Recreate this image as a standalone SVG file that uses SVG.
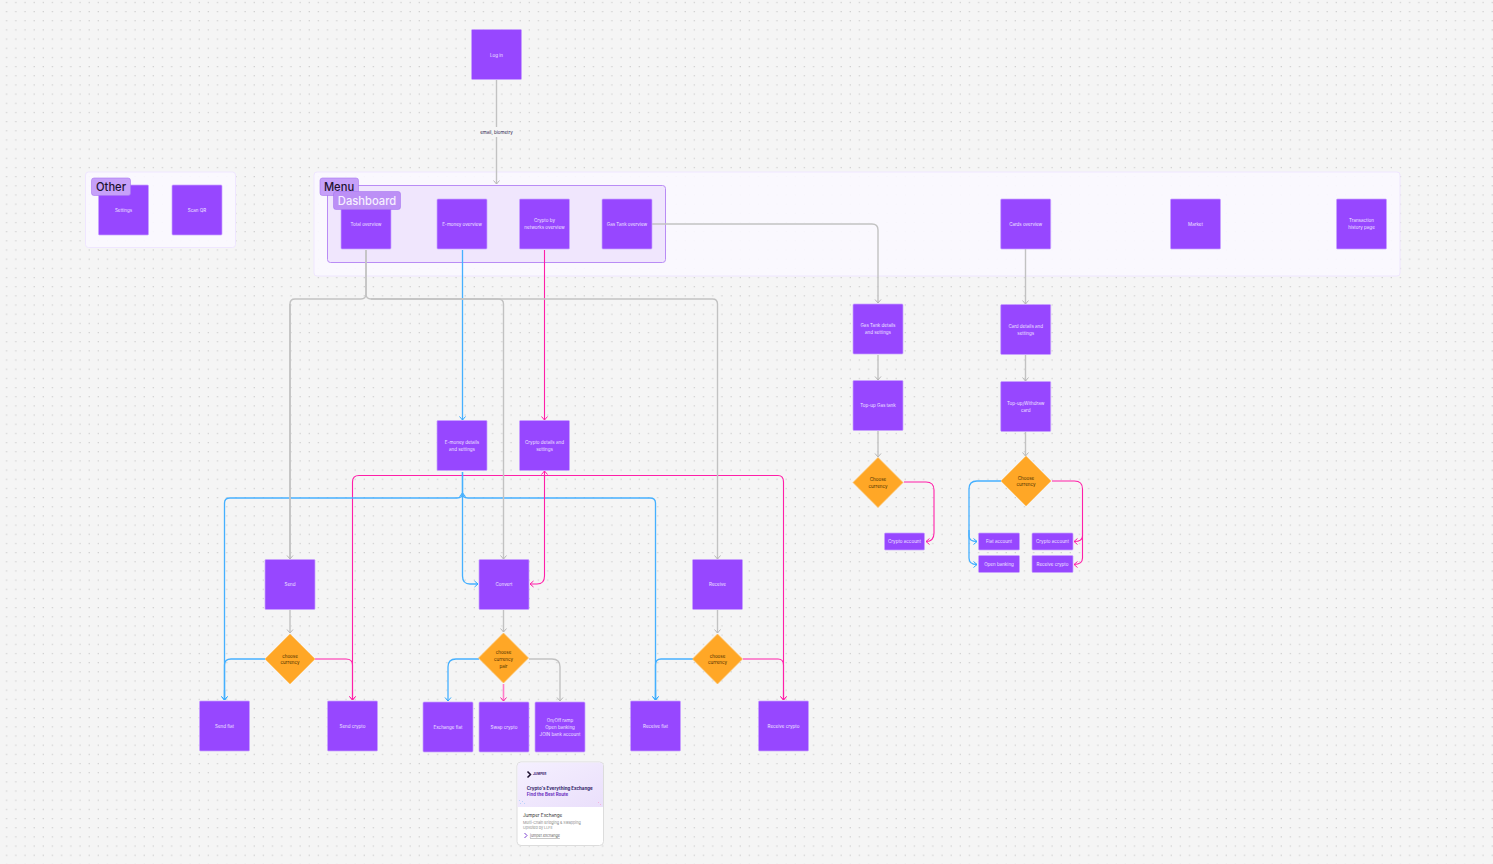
<svg xmlns="http://www.w3.org/2000/svg" width="1493" height="864" viewBox="0 0 1493 864">
<style>
text{font-family:Inter,"Liberation Sans",sans-serif;text-anchor:middle}
.n rect{fill:#9747ff;stroke:#c9a4ff;stroke-width:.7}
.n text{fill:#efe5ff;font-size:4.5px}
.d polygon{fill:#ffa726;stroke:#ffc266;stroke-width:.7}
.d text{fill:#4a2e00;font-size:4.5px}
.c path{fill:none;stroke-width:1.4;marker-end:url(#ag);stroke:#c2c2c2}
.c path.b{stroke:#45b0ff;stroke-width:1.3;marker-end:url(#ab)}
.c path.m{stroke:#ff1fa8;stroke-width:1.1;marker-end:url(#am)}
.c path.s{stroke:#ff7cc8;stroke-width:1.6}
.c path.x{marker-end:none}
.t{font-size:11.2px;font-weight:500}
.l text{text-anchor:start}
</style>
<defs>
<pattern id="dots" width="9.17" height="9.17" patternUnits="userSpaceOnUse"><rect x="6.1" y="1.9" width="1.1" height="1.1" fill="#c4c4c4"/></pattern>
<marker id="ag" markerWidth="8" markerHeight="8" refX="6" refY="4" orient="auto" markerUnits="userSpaceOnUse"><path d="M2.500 1L6 4L2.500 7" fill="none" stroke="#b8b8b8"/></marker>
<marker id="ab" markerWidth="8" markerHeight="8" refX="6" refY="4" orient="auto" markerUnits="userSpaceOnUse"><path d="M2.500 1L6 4L2.500 7" fill="none" stroke="#2fa8ff"/></marker>
<marker id="am" markerWidth="8" markerHeight="8" refX="6" refY="4" orient="auto" markerUnits="userSpaceOnUse"><path d="M2.500 1L6 4L2.500 7" fill="none" stroke="#ff1fa8"/></marker>
<linearGradient id="card" x1="0" y1="0" x2="1" y2="1"><stop offset="0" stop-color="#f5f0ff"/><stop offset="1" stop-color="#eadffb"/></linearGradient>
</defs>
<rect width="1493" height="864" fill="#f5f5f5"/>
<rect width="1493" height="864" fill="url(#dots)"/>

<g id="section-other"><rect x="85.500" y="172" width="150" height="75.500" rx="3" fill="#fbf8ff" fill-opacity=".9" stroke="#efe6ff"/></g>
<g id="section-menu"><rect x="314" y="172" width="1086" height="104" rx="3" fill="#fbf8ff" fill-opacity=".9" stroke="#efe6ff"/></g>
<g id="section-dashboard"><rect x="327.500" y="185.500" width="338" height="77" rx="3" fill="#efe4fd" fill-opacity=".93" stroke="#b98cf5"/></g>

<g class="c" id="connectors">
<path class="b" d="M462.500 250V420"/>
<path class="m" d="M544.500 250V420"/>
<path class="m" d="M904 482H926Q934 482 934 490V533Q934 541.500 926 541.500"/>
<path class="b" d="M1001 481H977Q969 481 969 489V536Q969 541.500 977 541.500"/>
<path class="b" d="M969 530V558Q969 564.500 977 564.500"/>
<path class="m" d="M1052 481H1074.500Q1082.500 481 1082.500 489V536Q1082.500 541.500 1074 541.500"/>
<path class="m" d="M1082.500 530V558Q1082.500 564.500 1074 564.500"/>
<path class="m x" d="M544.500 475.500H359Q352.500 475.500 352.500 482V700"/>
<path class="m" d="M352.500 690V700"/>
<path class="m x" d="M544.500 475.500H778Q783.500 475.500 783.500 482V700"/>
<path class="m" d="M783.500 690V700"/>
<path class="b x" d="M462.500 472V493Q462.500 498 457 498H230Q224.500 498 224.500 503V700"/>
<path class="b" d="M224.500 690V700"/>
<path class="b x" d="M462.500 493Q462.500 498 468 498H650Q655.500 498 655.500 503V700"/>
<path class="b" d="M655.500 690V700"/>
<path class="b" d="M462.500 498V493"/>
<path class="b" d="M462.500 472V576Q462.500 584 470 584H478"/>
<path class="m" d="M544.500 576Q544.500 584 537 584H530"/>
<path class="m x" d="M544.500 476V576"/>
<path class="m" d="M544.500 480V471"/>
<path class="b" d="M265 659H231Q224.500 659 224.500 665V700"/>
<path class="m" d="M315 659H346Q352.500 659 352.500 665V700"/>
<path class="b" d="M479 659H456Q448 659 448 667V701"/>
<path class="m s" d="M503.500 684V701"/>
<path class="b" d="M693 659H661Q655.500 659 655.500 665V700"/>
<path class="m" d="M743 659H778Q783.500 659 783.500 665V700"/>
<path d="M496.500 80V184"/>
<path class="x" d="M366 250V294Q366 299 361 299H295Q290 299 290 304V559"/>
<path d="M290 304V559"/>
<path d="M366 250V294Q366 299 371 299H498Q503.500 299 503.500 304V559"/>
<path d="M371 299H712.500Q717.500 299 717.500 304V559"/>
<path d="M652 224H872Q878 224 878 230V303"/>
<path d="M1025.500 249V304"/>
<path d="M878 355V380"/>
<path d="M1025.500 355V381"/>
<path d="M878 431V457"/>
<path d="M1025.500 432V456"/>
<path d="M290 610V633"/>
<path d="M503.500 610V632"/>
<path d="M717.500 610V633"/>
<path d="M529 659H552Q560 659 560 667V701"/>
</g>
<g id="edge-label"><rect x="478" y="127" width="37" height="10" fill="#f5f5f5"/><text x="496.500" y="134" font-size="4.500" fill="#2a1a4a">email, biometry</text></g>

<g class="n" id="login"><rect x="471.500" y="29.500" width="50" height="50" rx="1"/><text x="496.500" y="56.500">Log in</text></g>
<g class="n" id="settings"><rect x="98.500" y="185" width="50" height="50" rx="1"/><text x="123.500" y="212">Settings</text></g>
<g class="n" id="scanqr"><rect x="172" y="185" width="50" height="50" rx="1"/><text x="197" y="212">Scan QR</text></g>
<g class="n" id="total"><rect x="341" y="199" width="50" height="50" rx="1"/><text x="366" y="225.800">Total overview</text></g>
<g class="n" id="emoney"><rect x="437" y="199" width="50" height="50" rx="1"/><text x="462" y="225.800">E-money overview</text></g>
<g class="n" id="crypto"><rect x="519.500" y="199" width="50" height="50" rx="1"/><text x="544.500" y="222">Crypto by</text><text x="544.500" y="229">networks overview</text></g>
<g class="n" id="gas"><rect x="602" y="199" width="50" height="50" rx="1"/><text x="627" y="225.800">Gas Tank overview</text></g>
<g class="n" id="cards"><rect x="1000.700" y="199" width="50" height="50" rx="1"/><text x="1025.700" y="225.800">Cards overview</text></g>
<g class="n" id="market"><rect x="1170.500" y="199" width="50" height="50" rx="1"/><text x="1195.500" y="225.800">Market</text></g>
<g class="n" id="history"><rect x="1336.500" y="199" width="50" height="50" rx="1"/><text x="1361.500" y="222">Transaction</text><text x="1361.500" y="229">history page</text></g>
<g class="n" id="gasdetails"><rect x="853" y="304" width="50" height="50" rx="1"/><text x="878" y="327.300">Gas Tank details</text><text x="878" y="334">and settings</text></g>
<g class="n" id="carddetails"><rect x="1000.700" y="304.500" width="50" height="50" rx="1"/><text x="1025.700" y="327.800">Card details and</text><text x="1025.700" y="334.800">settings</text></g>
<g class="n" id="topupgas"><rect x="853" y="380.500" width="50" height="50" rx="1"/><text x="878" y="407.300">Top-up Gas tank</text></g>
<g class="n" id="topupcard"><rect x="1000.700" y="381.500" width="50" height="50" rx="1"/><text x="1025.700" y="405">Top-up/Withdraw</text><text x="1025.700" y="412">card</text></g>
<g class="d" id="choosegas"><polygon points="878,457.500 903,482.500 878,507.500 853,482.500"/><text x="878" y="480.500">Choose</text><text x="878" y="487.500">currency</text></g>
<g class="d" id="choosecard"><polygon points="1026,456 1051,481 1026,506 1001,481"/><text x="1026" y="479.500">Choose</text><text x="1026" y="486">currency</text></g>
<g class="n" id="cryptoacc1"><rect x="884.500" y="533" width="40" height="17" rx="1"/><text x="904.500" y="543.300">Crypto account</text></g>
<g class="n" id="fiatacc"><rect x="978.500" y="533" width="41" height="17" rx="1"/><text x="999" y="543.300">Fiat account</text></g>
<g class="n" id="cryptoacc2"><rect x="1032" y="533" width="41" height="17" rx="1"/><text x="1052.500" y="543.300">Crypto account</text></g>
<g class="n" id="openbank"><rect x="978.500" y="555.500" width="41" height="17" rx="1"/><text x="999" y="566">Open banking</text></g>
<g class="n" id="receivecrypto2"><rect x="1032" y="555.500" width="41" height="17" rx="1"/><text x="1052.500" y="566">Receive crypto</text></g>
<g class="n" id="emoneydetails"><rect x="437" y="420.500" width="50" height="50" rx="1"/><text x="462" y="444">E-money details</text><text x="462" y="451">and settings</text></g>
<g class="n" id="cryptodetails"><rect x="519.500" y="420.500" width="50" height="50" rx="1"/><text x="544.500" y="444">Crypto details and</text><text x="544.500" y="451">settings</text></g>
<g class="n" id="send"><rect x="265" y="559.500" width="50" height="50" rx="1"/><text x="290" y="586">Send</text></g>
<g class="n" id="convert"><rect x="479" y="559.500" width="50" height="50" rx="1"/><text x="504" y="586">Convert</text></g>
<g class="n" id="receive"><rect x="692.500" y="559.500" width="50" height="50" rx="1"/><text x="717.500" y="586">Receive</text></g>
<g class="d" id="choose1"><polygon points="290,634 315,659 290,684 265,659"/><text x="290" y="657.500">choose</text><text x="290" y="664">currency</text></g>
<g class="d" id="choose2"><polygon points="503.500,633 528.500,658 503.500,683 478.500,658"/><text x="503.500" y="654">choose</text><text x="503.500" y="660.500">currency</text><text x="503.500" y="667.500">pair</text></g>
<g class="d" id="choose3"><polygon points="717.500,634 742.500,659 717.500,684 692.500,659"/><text x="717.500" y="657.500">choose</text><text x="717.500" y="664">currency</text></g>
<g class="n" id="sendfiat"><rect x="199.500" y="701" width="50" height="50" rx="1"/><text x="224.500" y="728">Send fiat</text></g>
<g class="n" id="sendcrypto"><rect x="327.500" y="701" width="50" height="50" rx="1"/><text x="352.500" y="728">Send crypto</text></g>
<g class="n" id="exchangefiat"><rect x="423" y="702" width="50" height="50" rx="1"/><text x="448" y="729">Exchange fiat</text></g>
<g class="n" id="swap"><rect x="479" y="702" width="50" height="50" rx="1"/><text x="504" y="729">Swap crypto</text></g>
<g class="n" id="onoff"><rect x="535" y="702" width="50" height="50" rx="1"/><text x="560" y="722">On/Off ramp</text><text x="560" y="729">Open banking</text><text x="560" y="736">JOIN bank account</text></g>
<g class="n" id="receivefiat"><rect x="630.500" y="701" width="50" height="50" rx="1"/><text x="655.500" y="728">Receive fiat</text></g>
<g class="n" id="receivecrypto"><rect x="758.500" y="701" width="50" height="50" rx="1"/><text x="783.500" y="728">Receive crypto</text></g>

<g id="tag-other"><rect x="91.500" y="178" width="39" height="17.500" rx="2.500" fill="#c6a0f9" stroke="#a877f0" stroke-width=".6"/><text class="t" x="111" y="191" fill="#1d1230">Other</text></g>
<g id="tag-menu"><rect x="320" y="178" width="38.500" height="17.500" rx="2.500" fill="#c6a0f9" stroke="#a877f0" stroke-width=".6"/><text class="t" x="339" y="191" fill="#1d1230">Menu</text></g>
<g id="tag-dashboard"><rect x="333.500" y="191.500" width="67" height="18" rx="2.500" fill="#bc8ff6" stroke="#a877f0" stroke-width=".6"/><text class="t" x="367" y="205" fill="#f6efff">Dashboard</text></g>

<g id="link-card" class="l">
<rect x="517" y="762" width="86.500" height="83.500" rx="4" fill="#fff" stroke="#dcdcdc"/>
<path d="M517.500 807V766Q517.500 762.500 521 762.500H600Q603 762.500 603 766V807Z" fill="url(#card)"/>
<g fill="#b9d4fb"><rect x="519" y="800" width="1" height="1"/><rect x="522" y="801" width="1" height="1"/><rect x="520" y="803" width="1" height="1"/><rect x="524" y="803" width="1" height="1"/></g>
<g fill="#f4b3dc"><rect x="598" y="802" width="1" height="1"/><rect x="600" y="804" width="1" height="1"/></g>
<path d="M527.500 771.500L530.500 774.500L527.500 777.500" fill="none" stroke="#1d1230" stroke-width="1.500"/>
<text x="533" y="774.500" font-size="3.200" font-weight="700" fill="#3a2370">JUMPER</text>
<text x="526.700" y="790" font-size="4.450" font-weight="700" fill="#2e1a66">Crypto's Everything Exchange</text>
<text x="526.700" y="796" font-size="4.400" font-weight="700" fill="#6a2fc0">Find the Best Route</text>
<text x="523" y="816.500" font-size="4.600" fill="#333">Jumper Exchange</text>
<text x="523" y="823.500" font-size="3.700" fill="#8a8a8a">Multi-Chain Bridging &amp; Swapping</text>
<text x="523" y="829" font-size="3.700" fill="#8a8a8a">Upvoted by LLFE</text>
<path d="M524.500 833L527 835.500L524.500 838" fill="none" stroke="#7b3fd0"/>
<text x="530" y="837" font-size="3.700" fill="#666" text-decoration="underline">jumper.exchange</text>
</g>
</svg>
